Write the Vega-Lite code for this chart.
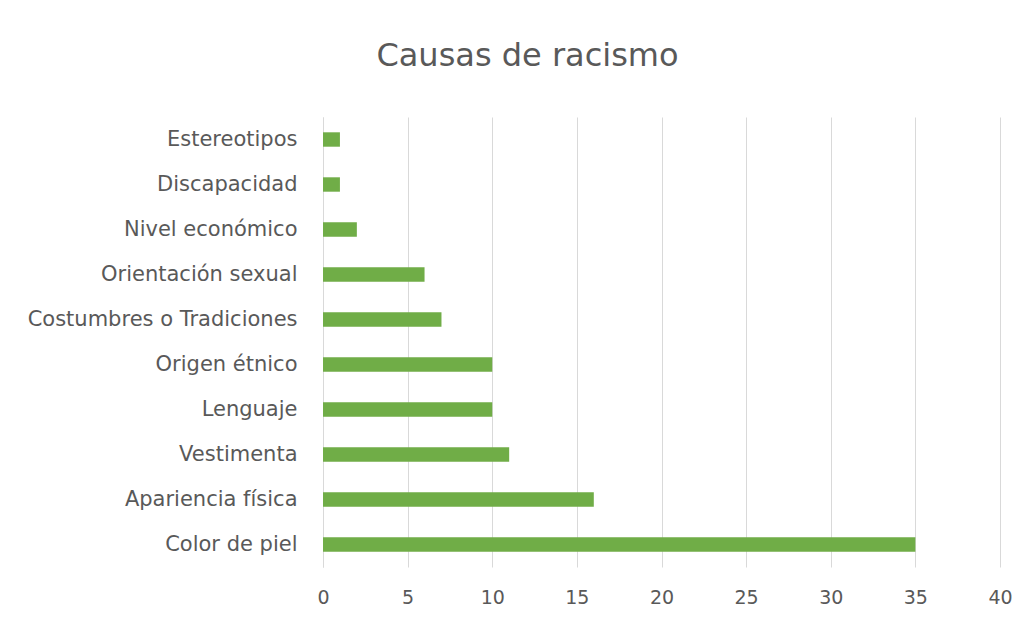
{
  "$schema": "https://vega.github.io/schema/vega-lite/v6.json",
  "autosize": {"type": "none"},
  "padding": {"left": 323, "top": 117, "right": 32, "bottom": 58},
  "width": 677,
  "height": 450,
  "background": "white",
  "title": {
    "text": "Causas de racismo",
    "font": "DejaVu Sans",
    "fontSize": 32,
    "fontWeight": "normal",
    "color": "#595959",
    "anchor": "middle",
    "frame": "group",
    "dx": -134,
    "baseline": "alphabetic",
    "offset": 19
  },
  "data": {
    "values": [
      {"causa": "Estereotipos", "n": 1},
      {"causa": "Discapacidad", "n": 1},
      {"causa": "Nivel económico", "n": 2},
      {"causa": "Orientación sexual", "n": 6},
      {"causa": "Costumbres o Tradiciones", "n": 7},
      {"causa": "Origen étnico", "n": 10},
      {"causa": "Lenguaje", "n": 10},
      {"causa": "Vestimenta", "n": 11},
      {"causa": "Apariencia física", "n": 16},
      {"causa": "Color de piel", "n": 35}
    ]
  },
  "mark": {"type": "bar", "color": "#70AD47"},
  "encoding": {
    "y": {
      "field": "causa",
      "type": "nominal",
      "sort": null,
      "scale": {"paddingInner": 0.68, "paddingOuter": 0.34},
      "axis": {
        "title": null,
        "ticks": false,
        "domain": true,
        "domainColor": "#d9d9d9",
        "domainWidth": 1,
        "grid": false,
        "labelFont": "DejaVu Sans",
        "labelFontSize": 21,
        "labelColor": "#595959",
        "labelPadding": 26,
        "labelLimit": 400
      }
    },
    "x": {
      "field": "n",
      "type": "quantitative",
      "scale": {"domain": [0, 40], "nice": false},
      "axis": {
        "title": null,
        "values": [0, 5, 10, 15, 20, 25, 30, 35, 40],
        "ticks": false,
        "domain": false,
        "grid": true,
        "gridColor": "#d9d9d9",
        "gridWidth": 1,
        "labelFont": "DejaVu Sans",
        "labelFontSize": 19,
        "labelColor": "#595959",
        "labelPadding": 21,
        "labelFlush": false
      }
    }
  },
  "config": {"view": {"stroke": null}}
}
